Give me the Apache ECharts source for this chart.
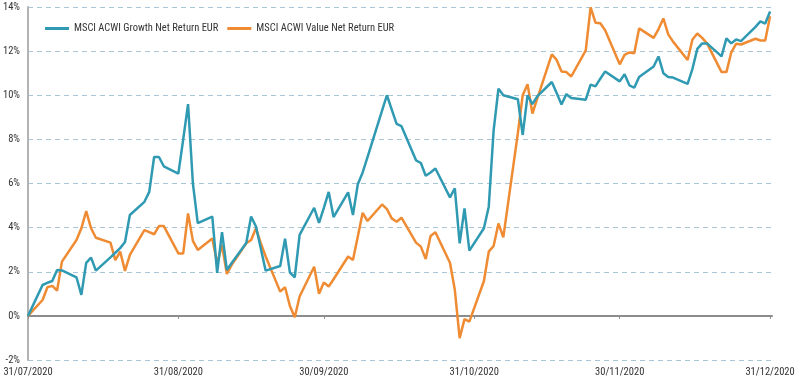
<!DOCTYPE html>
<html>
<head>
<meta charset="utf-8">
<script src="https://cdn.jsdelivr.net/npm/echarts@6/dist/echarts.min.js"></script>
<style>
html,body{margin:0;padding:0;background:#fff;}
#chart{width:800px;height:384px;}
</style>
</head>
<body>
<div id="chart"></div>
<script>
const seriesNames = ['MSCI ACWI Growth Net Return EUR', 'MSCI ACWI Value Net Return EUR'];
const xTickLabels = ['31/07/2020', '31/08/2020', '30/09/2020', '31/10/2020', '30/11/2020', '31/12/2020'];
const yTicks = [-2, 0, 2, 4, 6, 8, 10, 12, 14];

const dates = [
  '2020-07-31',
  '2020-08-03','2020-08-04','2020-08-05','2020-08-06','2020-08-07',
  '2020-08-10','2020-08-11','2020-08-12','2020-08-13','2020-08-14',
  '2020-08-17','2020-08-18','2020-08-19','2020-08-20','2020-08-21',
  '2020-08-24','2020-08-25','2020-08-26','2020-08-27','2020-08-28',
  '2020-08-31','2020-09-01','2020-09-02','2020-09-03','2020-09-04',
  '2020-09-07','2020-09-08','2020-09-09','2020-09-10','2020-09-11',
  '2020-09-14','2020-09-15','2020-09-16','2020-09-17','2020-09-18',
  '2020-09-21','2020-09-22','2020-09-23','2020-09-24','2020-09-25',
  '2020-09-28','2020-09-29','2020-09-30','2020-10-01','2020-10-02',
  '2020-10-05','2020-10-06','2020-10-07','2020-10-08','2020-10-09',
  '2020-10-12','2020-10-13','2020-10-14','2020-10-15','2020-10-16',
  '2020-10-19','2020-10-20','2020-10-21','2020-10-22','2020-10-23',
  '2020-10-26','2020-10-27','2020-10-28','2020-10-29','2020-10-30',
  '2020-11-02','2020-11-03','2020-11-04','2020-11-05','2020-11-06',
  '2020-11-09','2020-11-10','2020-11-11','2020-11-12','2020-11-13',
  '2020-11-16','2020-11-17','2020-11-18','2020-11-19','2020-11-20',
  '2020-11-23','2020-11-24','2020-11-25','2020-11-26','2020-11-27',
  '2020-11-30','2020-12-01','2020-12-02','2020-12-03','2020-12-04',
  '2020-12-07','2020-12-08','2020-12-09','2020-12-10','2020-12-11',
  '2020-12-14','2020-12-15','2020-12-16','2020-12-17','2020-12-18',
  '2020-12-21','2020-12-22','2020-12-23','2020-12-24','2020-12-25',
  '2020-12-28','2020-12-29','2020-12-30','2020-12-31'
];

const growth = [
  0,
  1.4, 1.5, 1.58, 2.08, 2.06,
  1.74, 0.95, 2.4, 2.64, 2.05,
  2.65, 2.86, 3.07, 3.35, 4.57,
  5.17, 5.62, 7.2, 7.2, 6.78,
  6.45, 8.0, 9.6, 6.0, 4.2,
  4.5, 1.95, 3.8, 2.08, 2.4,
  3.3, 4.5, 4.05, 3.05, 2.05,
  2.26, 3.5, 1.96, 1.75, 3.67,
  4.9, 4.22, 4.9, 5.62, 4.48,
  5.6, 4.57, 5.97, 6.5, 7.2,
  9.3, 10.0, 9.35, 8.7, 8.6,
  7.05, 6.93, 6.35, 6.5, 6.68,
  5.37, 5.78, 3.29, 4.87, 2.96,
  3.97, 4.95, 8.4, 10.3, 10.0,
  9.82, 8.2, 10.0, 9.6, 9.95,
  10.6, 10.1, 9.58, 10.05, 9.88,
  9.8, 10.48, 10.4, 10.75, 11.08,
  10.63, 10.95, 10.45, 10.34, 10.83,
  11.3, 11.76, 11.0, 10.83, 10.8,
  10.52, 11.2, 12.1, 12.35, 12.35,
  11.76, 12.58, 12.35, 12.53, 12.45,
  13.1, 13.35, 13.25, 13.8
];

const value = [
  0,
  0.72, 1.3, 1.36, 1.15, 2.46,
  3.44, 3.97, 4.75, 3.97, 3.54,
  3.32, 2.53, 2.91, 2.04, 2.76,
  3.89, 3.8, 3.7, 4.07, 4.07,
  2.83, 2.83, 4.64, 3.4, 2.99,
  3.51, 2.38, 3.21, 1.9, 2.31,
  3.29, 3.44, 3.97, 3.3, 2.69,
  1.1, 1.3, 0.45, -0.06, 0.88,
  2.23, 1.0, 1.51, 1.33, 1.66,
  2.69, 2.53, 3.6, 4.67, 4.3,
  5.05, 4.84, 4.42, 4.27, 4.45,
  3.32, 3.14, 2.58, 3.62, 3.79,
  2.41, 1.18, -1.01, -0.15, -0.26,
  1.58, 2.91, 3.17, 4.19, 3.56,
  8.28, 10.0, 10.5, 9.17, 9.85,
  11.85, 11.6, 11.08, 11.05, 10.85,
  12.03, 13.98, 13.29, 13.26, 12.95,
  11.4, 11.83, 11.94, 11.9, 13.03,
  12.6, 13.0, 13.48, 12.76, 12.43,
  11.6, 12.53, 12.8, 12.6, 12.35,
  11.05, 11.05, 11.94, 12.33, 12.3,
  12.56, 12.48, 12.48, 13.58
];

const FONT = "'Roboto Condensed', 'DejaVu Sans Condensed', sans-serif";
const FS = 10.5;
function parseLabel(s) {
  const p = s.split('/');
  return Date.UTC(+p[2], +p[1] - 1, +p[0]);
}
function toUTC(s) {
  const p = s.split('-');
  return Date.UTC(+p[0], +p[1] - 1, +p[2]);
}
const tickValues = xTickLabels.map(parseLabel);
const labelByTime = {};
xTickLabels.forEach((l, i) => { labelByTime[tickValues[i]] = l; });
const xMin = tickValues[0];
const xMax = tickValues[tickValues.length - 1] + 0.4 * 86400000;

const chart = echarts.init(document.getElementById('chart'), null, { renderer: 'canvas' });
chart.setOption({
  animation: false,
  backgroundColor: '#ffffff',
  textStyle: { fontFamily: FONT },
  legend: {
    left: 40, top: 18,
    icon: 'rect', itemWidth: 24, itemHeight: 3, itemGap: 9,
    textStyle: { fontFamily: FONT, fontSize: FS, color: '#333' },
    data: seriesNames
  },
  grid: { left: 25, right: 28, top: 7, bottom: 24, containLabel: false },
  xAxis: [
    {
      type: 'value', min: xMin, max: xMax, scale: true,
      position: 'bottom',
      axisLine: { show: false, onZero: false },
      axisTick: { show: false },
      splitLine: { show: false },
      axisLabel: {
        customValues: tickValues,
        formatter: v => labelByTime[v] || '',
        fontFamily: FONT, fontSize: FS, color: '#333', margin: 7,
        showMinLabel: true, showMaxLabel: true
      }
    },
    {
      type: 'value', min: xMin, max: xMax, scale: true,
      position: 'bottom',
      axisLine: { show: true, onZero: true, lineStyle: { color: '#8c8c8c', width: 2 } },
      axisTick: { show: true, customValues: tickValues, length: 3, lineStyle: { color: '#8c8c8c' } },
      axisLabel: { show: false },
      splitLine: { show: false }
    }
  ],
  yAxis: {
    type: 'value', min: yTicks[0], max: yTicks[yTicks.length - 1], interval: 2,
    axisLine: { show: true, onZero: false, lineStyle: { color: '#b3b3b3', width: 2 } },
    axisTick: { show: false },
    axisLabel: { formatter: '{value}%', fontFamily: FONT, fontSize: FS, color: '#333', margin: 8 },
    splitLine: { show: true, lineStyle: { color: '#a9c6d6', type: [5, 4], width: 1 } }
  },
  series: [
    {
      name: seriesNames[0], type: 'line', xAxisIndex: 0,
      data: dates.map((d, i) => [toUTC(d), growth[i]]),
      symbol: 'none', showSymbol: false,
      lineStyle: { color: '#2f9ab2', width: 2.5 },
      itemStyle: { color: '#2f9ab2' },
      z: 3
    },
    {
      name: seriesNames[1], type: 'line', xAxisIndex: 0,
      data: dates.map((d, i) => [toUTC(d), value[i]]),
      symbol: 'none', showSymbol: false,
      lineStyle: { color: '#ef8b33', width: 2.5 },
      itemStyle: { color: '#ef8b33' },
      z: 2
    }
  ]
});
</script>
</body>
</html>
